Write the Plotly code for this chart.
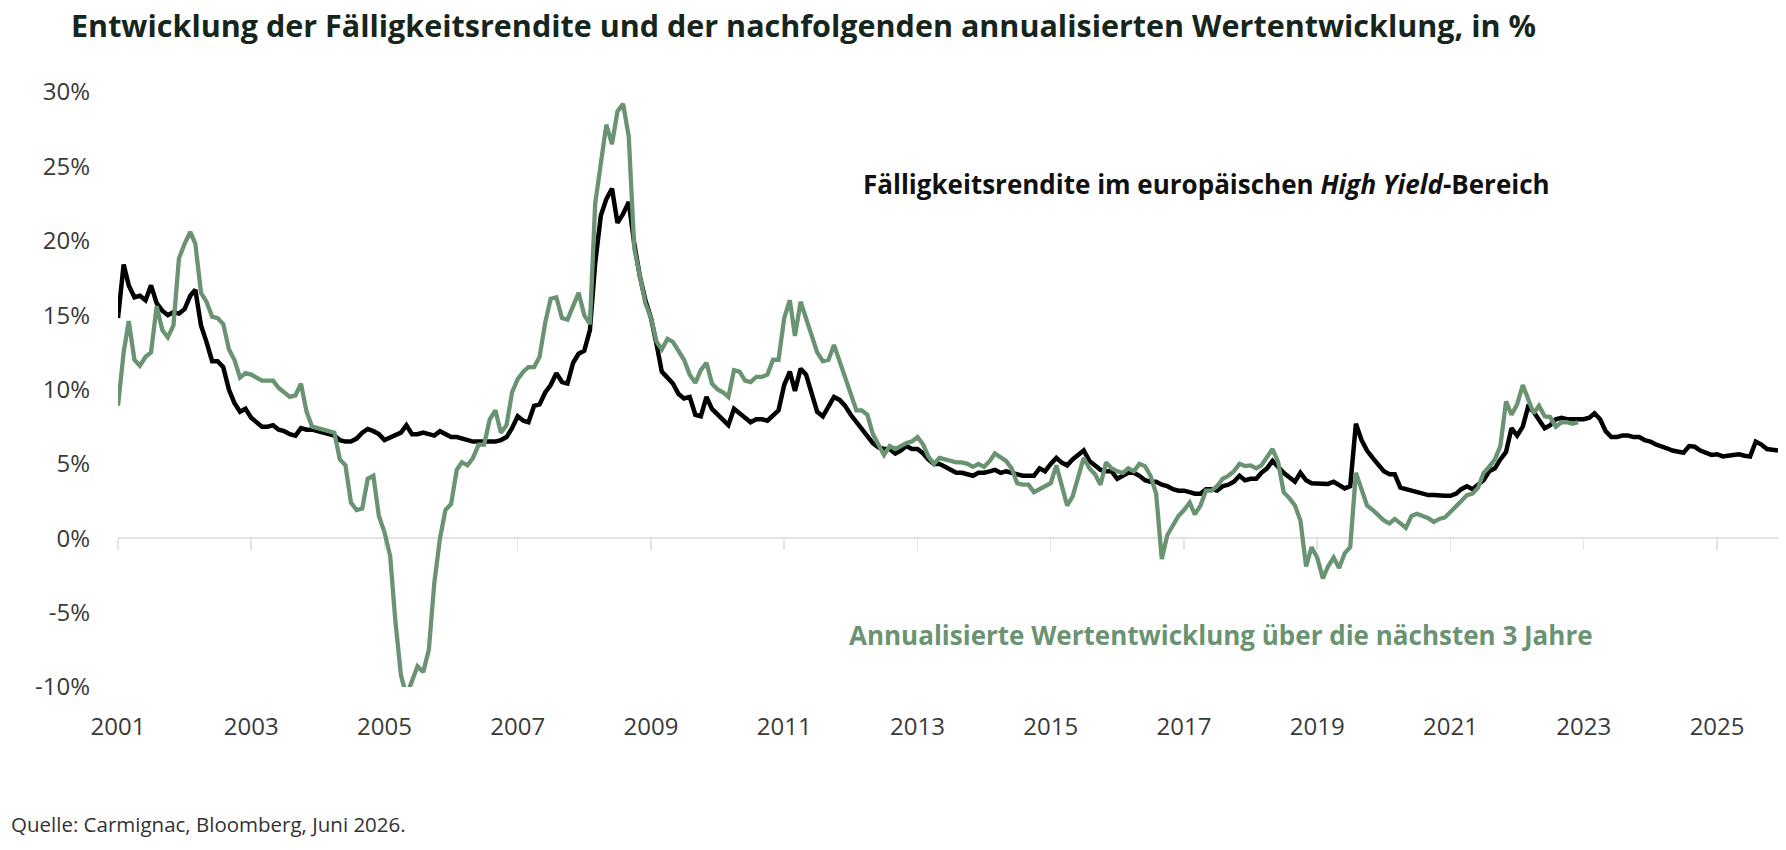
import plotly.graph_objects as go
import pandas as pd

# ---------------- data (monthly) ----------------
ytm_start = "2001-01-01"      # Fälligkeitsrendite, Jan 2001 .. Dec 2025
fwd_start = "2001-01-01"      # annualisierte 3J-Wertentwicklung, Jan 2001 .. Dec 2022

ytm_values = [
    14.8, 18.4, 17.0, 16.2, 16.3, 16.0, 17.0, 15.8, 15.3, 15.0, 15.2, 15.1,   # 2001
    15.4, 16.3, 16.7, 14.3, 13.2, 11.9, 11.9, 11.5, 10.0, 9.1, 8.5, 8.7,      # 2002
    8.1, 7.8, 7.5, 7.5, 7.6, 7.3, 7.2, 7.0, 6.9, 7.4, 7.3, 7.3,               # 2003
    7.2, 7.1, 7.0, 6.9, 6.6, 6.5, 6.5, 6.7, 7.1, 7.35, 7.2, 7.0,              # 2004
    6.6, 6.8, 6.9, 7.1, 7.6, 7.0, 7.0, 7.1, 7.0, 6.9, 7.2, 7.0,               # 2005
    6.8, 6.8, 6.7, 6.6, 6.5, 6.5, 6.5, 6.5, 6.5, 6.6, 6.8, 7.4,               # 2006
    8.2, 7.9, 7.8, 8.9, 9.0, 9.8, 10.3, 11.1, 10.5, 10.4, 11.8, 12.4,         # 2007
    12.6, 14.0, 18.5, 21.7, 22.8, 23.5, 21.2, 21.8, 22.6, 19.8, 17.6, 16.0,   # 2008
    14.8, 13.0, 11.2, 10.8, 10.4, 9.7, 9.4, 9.5, 8.3, 8.2, 9.5, 8.7,          # 2009
    8.3, 8.0, 7.6, 8.7, 8.4, 8.1, 7.8, 8.0, 8.0, 7.9, 8.3, 8.6,               # 2010
    10.3, 11.2, 9.9, 11.4, 11.0, 9.7, 8.5, 8.2, 8.9, 9.5, 9.3, 8.9,           # 2011
    8.3, 7.8, 7.3, 6.8, 6.4, 6.1, 6.0, 6.0, 5.7, 5.9, 6.2, 6.0,               # 2012
    6.0, 5.7, 5.3, 5.0, 5.0, 4.8, 4.6, 4.4, 4.4, 4.3, 4.2, 4.4,               # 2013
    4.4, 4.5, 4.6, 4.4, 4.5, 4.4, 4.3, 4.2, 4.2, 4.2, 4.7, 4.5,               # 2014
    5.0, 5.4, 5.1, 4.9, 5.3, 5.6, 5.9, 5.2, 4.9, 4.6, 4.5, 4.5,               # 2015
    4.0, 4.2, 4.4, 4.4, 4.2, 3.9, 3.8, 3.8, 3.6, 3.5, 3.3, 3.2,               # 2016
    3.2, 3.1, 3.0, 3.0, 3.3, 3.3, 3.2, 3.5, 3.6, 3.8, 4.2, 3.9,               # 2017
    4.0, 4.0, 4.4, 4.7, 5.2, 4.8, 4.4, 4.1, 3.8, 4.4, 3.9, 3.7,               # 2018
    3.7, 3.7, 3.65, 3.8, 3.6, 3.35, 3.5, 7.7, 6.6, 5.9, 5.4, 5.0,             # 2019
    4.5, 4.3, 4.3, 3.4, 3.3, 3.2, 3.1, 3.0, 2.9, 2.9, 2.85, 2.85,             # 2020
    2.85, 3.0, 3.3, 3.5, 3.3, 3.6, 3.9, 4.5, 4.7, 5.3, 5.8, 7.4,              # 2021
    6.9, 7.5, 8.8, 8.5, 7.9, 7.4, 7.6, 8.0, 8.1, 8.0, 8.0, 8.0,               # 2022
    8.0, 8.1, 8.4, 8.0, 7.2, 6.8, 6.8, 6.9, 6.9, 6.8, 6.8, 6.6,               # 2023
    6.5, 6.3, 6.2, 6.05, 5.9, 5.8, 5.75, 6.2, 6.15, 5.9, 5.75, 5.6,           # 2024
    5.65, 5.5, 5.55, 5.6, 5.65, 5.55, 5.5, 6.5, 6.3, 6.0, 5.95, 5.9,          # 2025
]

fwd_values = [
    8.9, 12.5, 14.6, 12.0, 11.6, 12.2, 12.5, 15.6, 14.0, 13.5, 14.3, 18.8,    # 2001
    19.8, 20.6, 19.8, 16.5, 15.9, 14.9, 14.8, 14.4, 12.7, 12.0, 10.8, 11.1,   # 2002
    11.0, 10.8, 10.6, 10.6, 10.6, 10.1, 9.8, 9.5, 9.6, 10.4, 8.5, 7.5,        # 2003
    7.4, 7.3, 7.2, 7.1, 5.3, 4.9, 2.4, 1.9, 2.0, 4.0, 4.2, 1.5,               # 2004
    0.4, -1.2, -5.5, -9.2, -10.6, -9.6, -8.6, -9.0, -7.5, -3.0, 0.0, 1.9,     # 2005
    2.3, 4.6, 5.1, 4.9, 5.4, 6.3, 6.3, 8.0, 8.6, 7.1, 7.6, 9.8,               # 2006
    10.7, 11.2, 11.5, 11.5, 12.2, 14.5, 16.1, 16.2, 14.8, 14.7, 15.6, 16.5,   # 2007
    15.0, 14.4, 22.5, 25.3, 27.8, 26.5, 28.7, 29.2, 27.0, 19.5, 17.5, 15.8,   # 2008
    14.8, 13.2, 12.7, 13.4, 13.2, 12.6, 12.0, 11.0, 10.45, 11.3, 11.8, 10.4,  # 2009
    10.0, 9.8, 9.5, 11.3, 11.2, 10.6, 10.5, 10.85, 10.85, 11.0, 12.0, 12.0,   # 2010
    14.8, 16.0, 13.6, 15.9, 14.8, 13.8, 12.5, 11.9, 12.0, 13.0, 11.9, 11.0,   # 2011
    9.8, 8.6, 8.6, 8.3, 7.0, 6.3, 5.6, 6.2, 6.0, 6.2, 6.4, 6.5,               # 2012
    6.8, 6.3, 5.5, 5.0, 5.4, 5.3, 5.2, 5.1, 5.1, 5.0, 4.8, 5.0,               # 2013
    4.8, 5.2, 5.7, 5.4, 5.2, 4.7, 3.7, 3.6, 3.6, 3.1, 3.3, 3.5,               # 2014
    3.7, 4.9, 3.6, 2.2, 2.8, 4.2, 5.4, 4.7, 4.3, 3.6, 5.1, 4.7,               # 2015
    4.5, 4.4, 4.7, 4.5, 5.0, 4.85, 4.2, 3.0, -1.4, 0.2, 0.9, 1.5,             # 2016
    1.9, 2.4, 1.6, 2.2, 3.2, 3.2, 3.5, 4.0, 4.2, 4.5, 5.0, 4.85,              # 2017
    4.9, 4.7, 4.9, 5.4, 6.0, 5.1, 3.1, 2.7, 2.2, 1.2, -1.9, -0.6,             # 2018
    -1.3, -2.7, -1.9, -1.3, -2.0, -1.0, -0.6, 4.4, 3.2, 2.2, 1.9, 1.6,        # 2019
    1.2, 1.0, 1.3, 1.0, 0.7, 1.5, 1.65, 1.5, 1.35, 1.1, 1.3, 1.4,             # 2020
    1.75, 2.1, 2.5, 2.9, 3.0, 3.4, 4.4, 4.8, 5.3, 6.2, 9.2, 8.3,              # 2021
    9.0, 10.3, 9.4, 8.4, 8.9, 8.2, 8.15, 7.5, 7.8, 7.8, 7.7, 7.8,             # 2022
]

y_tick_values = [-10, -5, 0, 5, 10, 15, 20, 25, 30]
y_tick_labels = ["-10%", "-5%", "0%", "5%", "10%", "15%", "20%", "25%", "30%"]
x_tick_years = [2001, 2003, 2005, 2007, 2009, 2011, 2013, 2015, 2017, 2019, 2021, 2023, 2025]

ytm_dates = pd.date_range(ytm_start, periods=len(ytm_values), freq="MS")
fwd_dates = pd.date_range(fwd_start, periods=len(fwd_values), freq="MS")

# ---------------- styling ----------------
W, H = 1786, 850
L, R, T, B = 118, 8, 92, 163
PW, PH = W - L - R, H - T - B

GREEN = "#6a9372"
FONT = "Open Sans"


def px(x):
    return (x - L) / PW


def py(y):
    return (H - B - y) / PH


fig = go.Figure()
fig.add_trace(go.Scatter(x=ytm_dates, y=ytm_values, mode="lines",
                         line=dict(color="#000000", width=4.5), hoverinfo="skip"))
fig.add_trace(go.Scatter(x=fwd_dates, y=fwd_values, mode="lines",
                         line=dict(color=GREEN, width=4.3), hoverinfo="skip"))

fig.update_layout(
    width=W, height=H,
    margin=dict(l=L, r=R, t=T, b=B, autoexpand=False),
    paper_bgcolor="white", plot_bgcolor="white",
    showlegend=False,
    font=dict(family=FONT, color="#3a3a3a", size=24),
)

fig.update_xaxes(
    type="date",
    range=[ytm_dates[0], ytm_dates[-1]],
    tickvals=[f"{yr}-01-01" for yr in x_tick_years],
    ticktext=[str(yr) for yr in x_tick_years],
    anchor="free", position=0.25,
    showline=False, showgrid=False, zeroline=False,
    ticks="outside", ticklen=11, tickwidth=1.5, tickcolor="#e4e4e4",
    ticklabelstandoff=156,
    tickfont=dict(family=FONT, size=24, color="#3a3a3a"),
    layer="below traces",
)
fig.update_yaxes(
    range=[-10, 30],
    tickvals=y_tick_values, ticktext=y_tick_labels,
    showgrid=False, showline=False,
    zeroline=True, zerolinecolor="#e2e2e2", zerolinewidth=2,
    ticks="", ticklabelstandoff=27,
    tickfont=dict(family=FONT, size=24, color="#3a3a3a"),
)

annots = [
    dict(text="<b>Entwicklung der Fälligkeitsrendite und der nachfolgenden annualisierten Wertentwicklung, in %</b>",
         x=px(69), y=py(25), size=30.5, color="#17261c"),
    dict(text="<b>Fälligkeitsrendite im europäischen <i>High Yield</i>-Bereich</b>",
         x=px(861), y=py(184), size=26, color="#111111"),
    dict(text="<b>Annualisierte Wertentwicklung über die nächsten 3 Jahre</b>",
         x=px(847), y=py(635), size=26, color=GREEN),
    dict(text="Quelle: Carmignac, Bloomberg, Juni 2026.",
         x=px(9), y=py(824), size=20.5, color="#333333"),
]
for a in annots:
    fig.add_annotation(text=a["text"], xref="paper", yref="paper", x=a["x"], y=a["y"],
                       xanchor="left", yanchor="middle", showarrow=False,
                       font=dict(family=FONT, size=a["size"], color=a["color"]))

# remove the browser's default 8px page margin so the figure sits at the window origin
fig.write_html("out.html",
               config={"displayModeBar": False, "staticPlot": True},
               post_script="document.body.style.margin='0';document.body.style.overflow='hidden';")
